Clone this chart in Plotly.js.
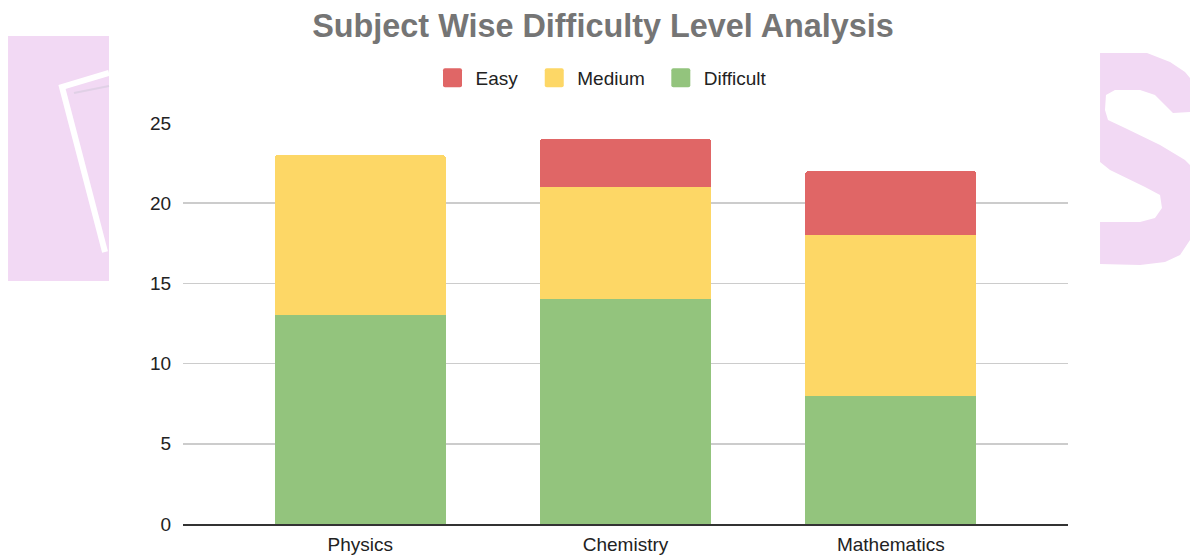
<!DOCTYPE html>
<html>
<head>
<meta charset="utf-8">
<script src="https://cdn.plot.ly/plotly-3.0.1.min.js"></script>
<style>html,body{margin:0;padding:0;background:#fff;}#chart{width:1190px;height:556px;}</style>
</head>
<body>
<div id="chart"></div>
<script>
const categories = ["Physics", "Chemistry", "Mathematics"];
const difficult = [13, 14, 8];
const medium = [10, 7, 10];
const easy = [0, 3, 4];
const seriesNames = ["Difficult", "Medium", "Easy"];
const seriesColors = ["#93c47d", "#fdd766", "#e06666"];
const yTicks = [0, 5, 10, 15, 20, 25];

// plot area in pixels (for decorative watermark placement)
const L = 183, R = 1068, T = 123, B = 524;
function px(x, y) { return ((x - L) / (R - L)).toFixed(4) + "," + ((B - y) / (B - T)).toFixed(4); }
function path(pts, close) { return "M" + pts.map(p => px(p[0], p[1])).join(" L") + (close ? " Z" : ""); }

const wmColor = "#f2d9f4";
const sPts = [[1100,53],[1147,53],[1170,62],[1185,72],[1190,78],[1190,112],[1173,113],[1165,105],[1155,95],[1140,90],[1115,90],[1106,95],[1105,110],[1108,120],[1125,128],[1160,145],[1185,160],[1190,165],[1190,240],[1180,255],[1165,262],[1140,265],[1100,264],[1100,222],[1140,222],[1155,218],[1162,208],[1160,195],[1145,187],[1110,170],[1100,162]];

const shapes = [
  {type: "path", xref: "paper", yref: "paper", layer: "below", path: path([[8,36],[109,36],[109,281],[8,281]], true), fillcolor: wmColor, line: {width: 0}},
  {type: "path", xref: "paper", yref: "paper", layer: "below", path: path([[109,73],[62,87],[105,252]], false), fillcolor: "rgba(0,0,0,0)", line: {color: "#ffffff", width: 6}},
  {type: "path", xref: "paper", yref: "paper", layer: "below", path: path([[109,86],[74,93]], false), fillcolor: "rgba(0,0,0,0)", line: {color: "#e0d0e6", width: 2}},
  {type: "path", xref: "paper", yref: "paper", layer: "below", path: path(sPts, true), fillcolor: wmColor, line: {width: 0}}
];

const vals = [difficult, medium, easy];
const traces = seriesNames.map((n, i) => ({
  type: "bar", name: n, x: categories, y: vals[i],
  marker: {color: seriesColors[i], line: {width: 0}},
  hoverinfo: "x+y+name"
}));

const layout = {
  width: 1190, height: 556,
  margin: {l: L, r: 1190 - R, t: T, b: 556 - B, pad: 0},
  paper_bgcolor: "#ffffff", plot_bgcolor: "rgba(0,0,0,0)",
  font: {family: "Liberation Sans, Arial, sans-serif", size: 19, color: "#222222"},
  title: {text: "<b>Subject Wise Difficulty Level Analysis</b>", font: {size: 32.4, color: "#757575", family: "Liberation Sans, Arial, sans-serif"},
          xref: "container", x: 603 / 1190, xanchor: "center", yref: "container", y: 1 - 26 / 556, yanchor: "middle"},
  barmode: "stack", bargap: 0.355, barcornerradius: 3,
  showlegend: true,
  legend: {orientation: "h", traceorder: "reversed", x: (596.5 - L) / (R - L), xanchor: "center", y: (B - 78) / (B - T), yanchor: "middle",
           font: {size: 19, color: "#222222"}, itemwidth: 44},
  xaxis: {type: "category", range: [-0.668, 2.668], showgrid: false, showline: true, linecolor: "#333333", linewidth: 1.5,
          ticks: "", ticklabelstandoff: 3, tickfont: {size: 19, color: "#222222"}, fixedrange: true},
  yaxis: {range: [0, 25], tickvals: yTicks, showgrid: true, gridcolor: "#cccccc", gridwidth: 1.5, zeroline: false, showline: false,
          ticks: "outside", ticklen: 7, tickcolor: "rgba(0,0,0,0)", tickfont: {size: 19, color: "#222222"}, fixedrange: true},
  shapes: shapes
};

Plotly.newPlot("chart", traces, layout, {displayModeBar: false, staticPlot: true}).then(gd => {
  // enlarge legend swatches to match the reference's rounded squares
  const d = "M1.5,-9.5H11.5A2,2 0 0 1 13.5,-7.5V7.5A2,2 0 0 1 11.5,9.5H-3.5A2,2 0 0 1 -5.5,7.5V-7.5A2,2 0 0 1 -3.5,-9.5Z";
  gd.querySelectorAll(".legend .legendpoints path").forEach(p => p.setAttribute("d", d));
});
</script>
</body>
</html>
